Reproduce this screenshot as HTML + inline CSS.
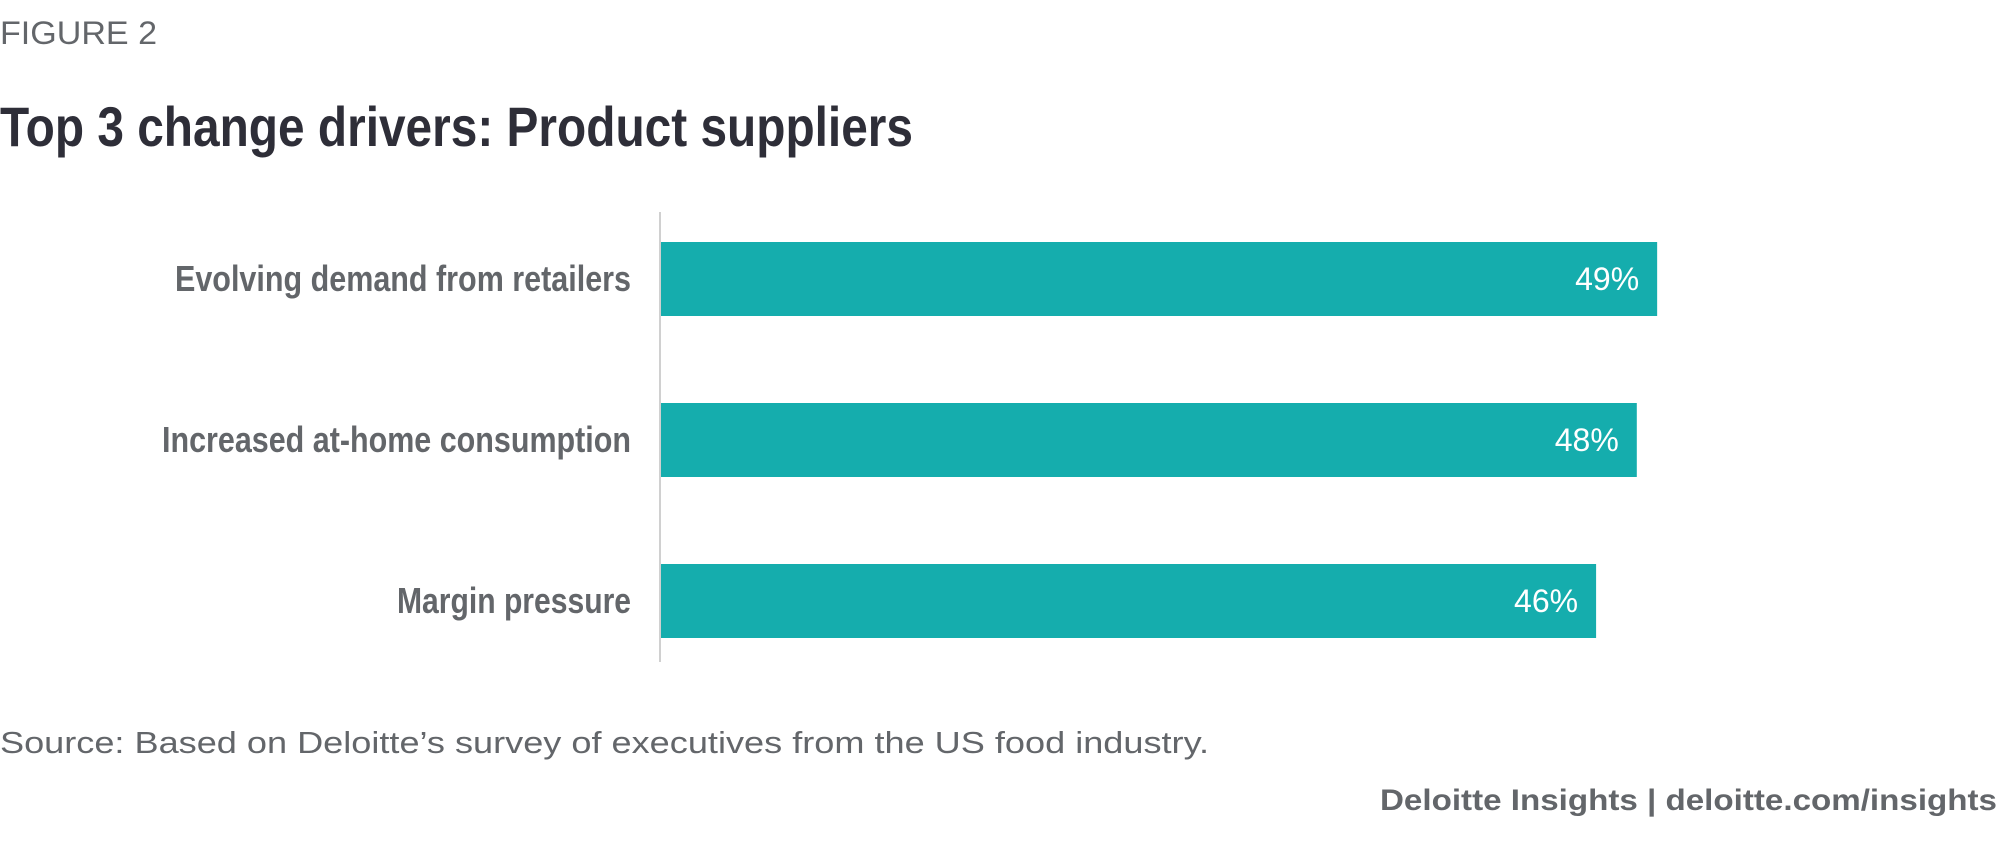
<!DOCTYPE html>
<html><head><meta charset="utf-8"><style>
html,body{margin:0;padding:0;background:#fff;}
svg{display:block;font-family:"Liberation Sans Narrow","Liberation Sans",sans-serif;}
</style></head><body>
<svg id="chart" width="2000" height="866" viewBox="0 0 2000 866">
<text x="0" y="44" font-family="Liberation Sans, sans-serif" font-size="32" fill="#63666A" textLength="157" lengthAdjust="spacingAndGlyphs">FIGURE 2</text>
<text x="0" y="146" font-size="56" font-weight="bold" fill="#2E2E38" textLength="913" lengthAdjust="spacingAndGlyphs">Top 3 change drivers: Product suppliers</text>
<line x1="660" y1="212" x2="660" y2="662" stroke="#d0d0d0" stroke-width="2"/>
<g id="bars"></g>
<text x="0" y="753" font-family="Liberation Sans, sans-serif" font-size="31" fill="#63666A" textLength="1209" lengthAdjust="spacingAndGlyphs">Source: Based on Deloitte’s survey of executives from the US food industry.</text>
<text x="1997" y="810" text-anchor="end" font-family="Liberation Sans, sans-serif" font-size="30" font-weight="bold" fill="#63666A" textLength="617" lengthAdjust="spacingAndGlyphs">Deloitte Insights | deloitte.com/insights</text>
</svg>
<script>
const categories = ["Evolving demand from retailers","Increased at-home consumption","Margin pressure"];
const values = [49,48,46];
const valueLabels = ["49%","48%","46%"];
const labelWidths = [456,469,234];
const x0 = 660, pxPer = 20.35;
function xScale(v){return x0 + v*pxPer;}
function yBand(i){return 242 + i*161;}
const bandH = 74;
const ns="http://www.w3.org/2000/svg";
const g=document.getElementById('bars');
categories.forEach((c,i)=>{
  const y=yBand(i);
  const r=document.createElementNS(ns,'rect');
  r.setAttribute('x',x0+1);r.setAttribute('y',y);
  r.setAttribute('width',xScale(values[i])-x0-1);r.setAttribute('height',bandH);
  r.setAttribute('fill','#15ADAD');
  
  
  g.appendChild(r);
  const t=document.createElementNS(ns,'text');
  t.setAttribute('x',631);t.setAttribute('y',y+bandH/2+12);
  t.setAttribute('text-anchor','end');t.setAttribute('font-size','36');
  t.setAttribute('font-weight','bold');t.setAttribute('fill','#63666A');
  t.setAttribute('textLength',labelWidths[i]);t.setAttribute('lengthAdjust','spacingAndGlyphs');
  t.textContent=c;
  
  
  g.appendChild(t);
  const v=document.createElementNS(ns,'text');
  v.setAttribute('x',xScale(values[i])-18);v.setAttribute('y',y+bandH/2+11);
  v.setAttribute('text-anchor','end');v.setAttribute('font-size','32');
  v.setAttribute('font-family','Liberation Sans, sans-serif');v.setAttribute('fill','#ffffff');
  v.textContent=valueLabels[i];
  
  
  g.appendChild(v);
});
</script>
</body></html>
